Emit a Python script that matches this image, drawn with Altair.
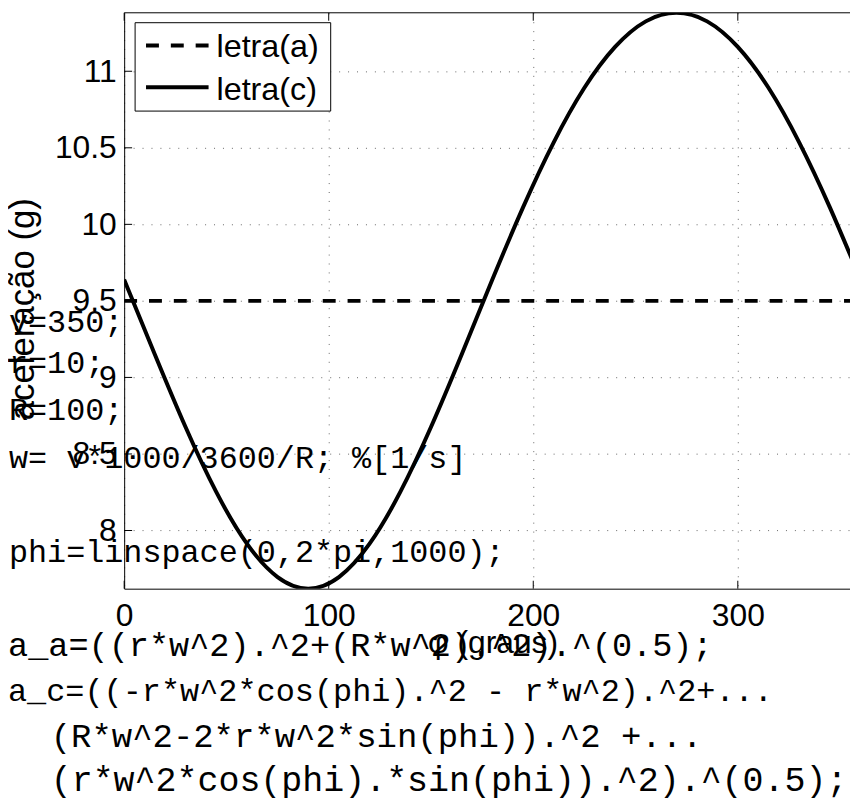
import altair as alt
import pandas as pd

# ---- data ----
phi_deg = [0, 15, 30, 45, 60, 75, 90, 105, 120, 135, 150, 165, 180,
           195, 210, 225, 240, 255, 270, 285, 300, 315, 330, 345, 360]
acc_c = [9.639, 9.150, 8.676, 8.252, 7.914, 7.696, 7.620, 7.696, 7.914,
         8.252, 8.676, 9.150, 9.639, 10.111, 10.536, 10.892, 11.159,
         11.326, 11.382, 11.326, 11.159, 10.892, 10.536, 10.111, 9.639]
phi_a = [0, 360]
acc_a = [9.5, 9.5]
x_ticks = [0, 100, 200, 300]
y_ticks = [8, 8.5, 9, 9.5, 10, 10.5, 11]
legend_labels = ["letra(a)", "letra(c)"]
code_top = ["v=350;", "r=10;", "R=100;", "w= v*1000/3600/R; %[1/s]",
            "phi=linspace(0,2*pi,1000);"]
code_bottom = ["a_a=((r*w^2).^2+(R*w^2).^2).^(0.5);",
               "a_c=((-r*w^2*cos(phi).^2 - r*w^2).^2+...",
               "(R*w^2-2*r*w^2*sin(phi)).^2 +...",
               "(r*w^2*cos(phi).*sin(phi)).^2).^(0.5);"]

# ---- layout ----
W, H = 731, 580
X_MAX = 354.85
Y_DOM = [7.62, 11.382]
SANS = "Liberation Sans"
MONO = "Liberation Mono"

xs = alt.Scale(domain=[0, X_MAX], nice=False, zero=False)
ys = alt.Scale(domain=Y_DOM, nice=False, zero=False)

x_axis = alt.Axis(values=x_ticks, title="φ (graus)", grid=True, ticks=False,
                  labelPadding=12, labelFlush=False, labelOverlap=False,
                  titleX=371, titleY=64, titleBaseline="alphabetic",
                  titleAlign="center", titleFontSize=32)
y_axis = alt.Axis(values=y_ticks, title="aceleração (g)", grid=True, ticks=False,
                  format="~g", labelPadding=8, labelFlush=False, labelOverlap=False,
                  titleX=-91, titleY=298, titleAngle=270,
                  titleBaseline="alphabetic", titleAlign="center", titleFontSize=35)

x_enc = alt.X("phi:Q", scale=xs, axis=x_axis)
y_enc = alt.Y("a:Q", scale=ys, axis=y_axis)

df_c = pd.DataFrame({"phi": phi_deg, "a": acc_c})
df_a = pd.DataFrame({"phi": phi_a, "a": acc_a})

line_c = alt.Chart(df_c).mark_line(color="black", strokeWidth=4,
                                   interpolate="natural", clip=True).encode(x=x_enc, y=y_enc)
line_a = alt.Chart(df_a).mark_line(color="black", strokeWidth=4,
                                   strokeDash=[13, 12], clip=True).encode(x=x_enc, y=y_enc)

one = pd.DataFrame({"d": [0]})
top_border = alt.Chart(one).mark_rule(color="black", strokeWidth=1).encode(
    x=alt.value(0), x2=alt.value(W), y=alt.value(0))

dfx = pd.DataFrame({"phi": x_ticks})
dfy = pd.DataFrame({"a": y_ticks})
ticks_bottom = alt.Chart(dfx).mark_rule(color="black").encode(
    x=x_enc, y=alt.value(H), y2=alt.value(H - 8))
ticks_top = alt.Chart(dfx).mark_rule(color="black").encode(
    x=x_enc, y=alt.value(0), y2=alt.value(8))
ticks_left = alt.Chart(dfy).mark_rule(color="black").encode(
    y=y_enc, x=alt.value(0), x2=alt.value(8))

# legend box
leg_box = alt.Chart(one).mark_rect(fill="white", stroke="black", strokeWidth=1).encode(
    x=alt.value(11), x2=alt.value(208), y=alt.value(10), y2=alt.value(99))
leg_a = alt.Chart(one).mark_rule(color="black", strokeWidth=4, strokeDash=[13, 12]).encode(
    x=alt.value(22), x2=alt.value(85), y=alt.value(33))
leg_c = alt.Chart(one).mark_rule(color="black", strokeWidth=4).encode(
    x=alt.value(22), x2=alt.value(85), y=alt.value(75))
leg_texts = []
for lab, yy in zip(legend_labels, [45, 88]):
    leg_texts.append(
        alt.Chart(pd.DataFrame({"t": [lab]})).mark_text(
            align="left", baseline="alphabetic", font=SANS, fontSize=32.5, color="black"
        ).encode(x=alt.value(93), y=alt.value(yy), text="t:N"))

# code overlay
code_layers = []
top_y = [321, 363, 410, 458, 553]
for line, yy in zip(code_top, top_y):
    code_layers.append(
        alt.Chart(pd.DataFrame({"t": [line]})).mark_text(
            align="left", baseline="alphabetic", font=MONO, fontSize=32, color="black"
        ).encode(x=alt.value(-116), y=alt.value(yy), text="t:N"))
bot_y = [648, 693, 739, 784]
bot_x = [-117, -117, -74, -74]
bot_size = [33.8, 32.1, 34.2, 35.2]
for line, yy, xx, fs in zip(code_bottom, bot_y, bot_x, bot_size):
    code_layers.append(
        alt.Chart(pd.DataFrame({"t": [line]})).mark_text(
            align="left", baseline="alphabetic", font=MONO, fontSize=fs, color="black"
        ).encode(x=alt.value(xx), y=alt.value(yy), text="t:N"))

chart = alt.layer(
    line_a, line_c, top_border, ticks_bottom, ticks_top, ticks_left,
    leg_box, leg_a, leg_c, *leg_texts, *code_layers
).properties(
    width=W, height=H,
    autosize=alt.AutoSizeParams(type="none"),
    padding={"left": 117, "top": 2, "right": 0, "bottom": 210},
).configure_view(stroke=None).configure_axis(
    domainColor="black", domainWidth=1, labelColor="black", titleColor="black",
    gridColor="black", gridDash=[1, 8], gridOpacity=0.6, gridWidth=1,
    labelFont=SANS, titleFont=SANS, labelFontSize=32,
    titleFontWeight="normal",
)

chart.save("out.html", embed_options={"renderer": "svg", "actions": False})
